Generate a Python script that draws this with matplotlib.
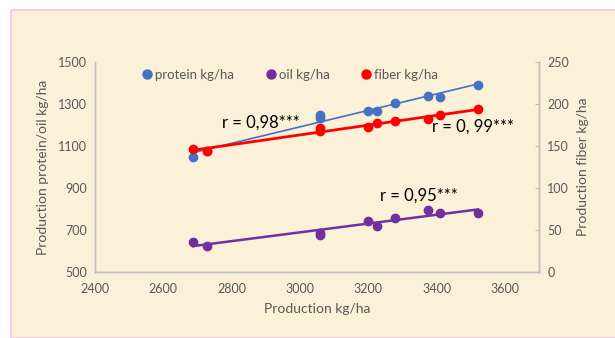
import numpy as np
import matplotlib
matplotlib.use("Agg")
import matplotlib.pyplot as plt
from matplotlib.lines import Line2D
from matplotlib.patches import Rectangle

plt.rcParams['font.family'] = ['Lato', 'DejaVu Sans']

production = [2687, 2728, 3059, 3059, 3199, 3226, 3278, 3375, 3410, 3521]
protein = [1050, 1078, 1248, 1235, 1268, 1268, 1305, 1340, 1332, 1392]
oil = [645, 625, 685, 675, 745, 718, 758, 797, 780, 783]
fiber = [146, 144, 171, 168, 172.5, 177, 179.5, 182, 187.5, 194]

x_ticks = [2400, 2600, 2800, 3000, 3200, 3400, 3600]
left_ticks = [500, 700, 900, 1100, 1300, 1500]
right_ticks = [0, 50, 100, 150, 200, 250]

c_protein = '#4472C4'
c_oil = '#7030A0'
c_fiber = '#FF0000'
gray = '#595959'
axis_gray = '#BFBFBF'
bg = '#FBF0D8'

fig = plt.figure(figsize=(6.15, 3.38), dpi=100)
fig.patch.set_facecolor('white')
bgrect = Rectangle((11/615, 0), 1, 1 - 10/338, transform=fig.transFigure,
                   facecolor=bg, edgecolor='#F2C4F2', linewidth=1.2, zorder=-10)
fig.add_artist(bgrect)

ax = fig.add_axes([95/615, 1 - 272/338, 444/615, 210/338])
ax.set_facecolor('none')
ax2 = ax.twinx()
ax2.set_facecolor('none')

xs = np.array(production, dtype=float)
xl = np.array([xs.min(), xs.max()])

# protein
ax.scatter(xs, protein, s=36, color=c_protein, zorder=3)
p = np.polyfit(xs, protein, 1)
ax.plot(xl, np.polyval(p, xl), color=c_protein, lw=1.2, zorder=2)
# oil
ax.scatter(xs, oil, s=36, color=c_oil, zorder=3)
p = np.polyfit(xs, oil, 1)
ax.plot(xl, np.polyval(p, xl), color=c_oil, lw=1.8, zorder=2)
# fiber
ax2.scatter(xs, fiber, s=36, color=c_fiber, zorder=3)
p = np.polyfit(xs, fiber, 1)
ax2.plot(xl, np.polyval(p, xl), color=c_fiber, lw=2.0, zorder=2)

ax.set_xlim(2400, 3700)
ax.set_ylim(500, 1500)
ax2.set_ylim(0, 250)
ax.set_xticks(x_ticks)
ax.set_yticks(left_ticks)
ax2.set_yticks(right_ticks)

for a in (ax, ax2):
    for s in a.spines.values():
        s.set_color(axis_gray)
        s.set_linewidth(1.0)
    a.spines['top'].set_visible(False)
ax.tick_params(axis='both', length=0, labelsize=9, colors=gray, pad=6)
ax.tick_params(axis='x', pad=8)
ax2.tick_params(axis='y', length=3, direction='in', labelsize=9, colors=gray, pad=6)
ax2.tick_params(axis='y', color=axis_gray)

ax.set_xlabel('Production kg/ha', fontsize=10, color=gray, labelpad=6)
ax.set_ylabel('Production protein/oil kg/ha', fontsize=10, color=gray, labelpad=6)
ax2.set_ylabel('Production fiber kg/ha', fontsize=10, color=gray, labelpad=6)

ax2.text(2772, 1210, 'r = 0,98***', transform=ax.transData, fontsize=12, color='black', va='center', ha='left')
ax2.text(3387, 1190, 'r = 0, 99***', transform=ax.transData, fontsize=12, color='black', va='center', ha='left')
ax2.text(3235, 862, 'r = 0,95***', transform=ax.transData, fontsize=12, color='black', va='center', ha='left')

handles = [Line2D([], [], ls='', marker='o', ms=6.5, color=c) for c in (c_protein, c_oil, c_fiber)]
labels = ['protein kg/ha', 'oil kg/ha', 'fiber kg/ha']
leg = ax2.legend(handles, labels, loc='center left', bbox_to_anchor=(0.09, 0.94), ncol=3,
                 frameon=False, fontsize=9.5, handletextpad=0.1, columnspacing=2.3,
                 handlelength=1.0, borderaxespad=0)
for t in leg.get_texts():
    t.set_color(gray)

fig.savefig('out.png', dpi=100, facecolor=fig.get_facecolor())
